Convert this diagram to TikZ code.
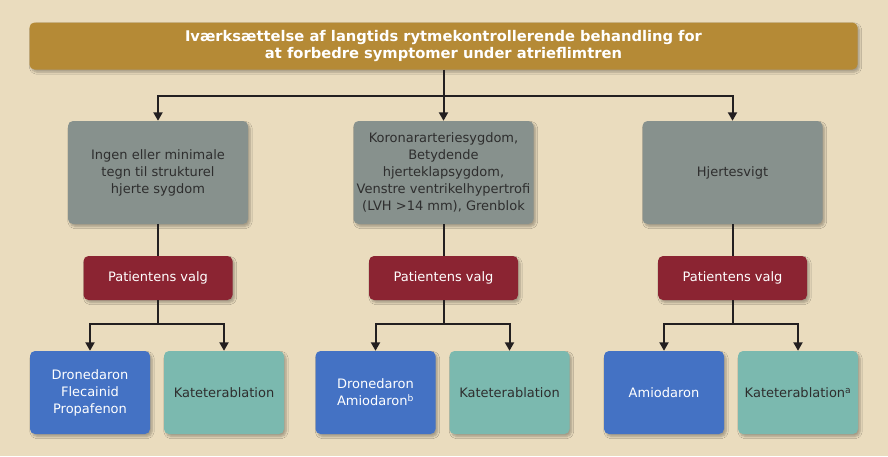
\documentclass[tikz,border=0pt]{standalone}
\usepackage{fontspec}
\setmainfont{DejaVu Sans}
\usetikzlibrary{arrows.meta,shadows.blur}
\definecolor{bg}{HTML}{EADCBE}
\definecolor{titlec}{HTML}{B58A36}
\definecolor{greyc}{HTML}{87918D}
\definecolor{redc}{HTML}{8B2432}
\definecolor{bluec}{HTML}{4472C4}
\definecolor{tealc}{HTML}{7BB9AF}
\definecolor{linec}{HTML}{231F20}
\definecolor{txtc}{HTML}{2E2E2E}
\begin{document}
\begin{tikzpicture}[x=1pt,y=-1pt,
  shad/.style={blur shadow={shadow xshift=2pt,shadow yshift=-2.5pt,shadow blur steps=6,shadow opacity=30}},
  basebox/.style={rounded corners=5pt,inner sep=0pt,align=center,shad,font=\fontsize{13}{17}\selectfont},
  titlebox/.style={basebox,fill=titlec,text=white,minimum width=828pt,minimum height=47pt,font=\fontsize{14.7}{17.5}\selectfont\bfseries},
  greybox/.style={basebox,fill=greyc,text=txtc,minimum width=180pt,minimum height=103pt},
  redbox/.style={basebox,fill=redc,text=white,minimum width=149pt,minimum height=44pt},
  bluebox/.style={basebox,fill=bluec,text=white,minimum width=120pt,minimum height=83pt},
  tealbox/.style={basebox,fill=tealc,text=txtc,minimum width=120pt,minimum height=83pt},
  conn/.style={draw=linec,line width=2pt},
  arr/.style={conn,-{Triangle[width=9pt,length=8.5pt]}}]
\fill[bg] (0,0) rectangle (888,456);
\useasboundingbox (0,0) rectangle (888,456);

\node[titlebox] (title) at (443.5,46) {Iværksættelse af langtids rytmekontrollerende behandling for\\at forbedre symptomer under atrieflimtren};

\node[greybox] (g1) at (158,172.5) {Ingen eller minimale\\tegn til strukturel\\hjerte sygdom};
\node[greybox] (g2) at (443.5,172.5) {Koronararteriesygdom,\\Betydende\\hjerteklapsygdom,\\Venstre ventrikelhypertrofi\\(LVH >14 mm), Grenblok};
\node[greybox] (g3) at (732.5,172.5) {Hjertesvigt};

\node[redbox] (r1) at (158,278) {Patientens valg};
\node[redbox] (r2) at (443.5,278) {Patientens valg};
\node[redbox] (r3) at (732.5,278) {Patientens valg};

\node[bluebox] (b1) at (90,392.5) {Dronedaron\\Flecainid\\Propafenon};
\node[tealbox] (t1) at (224,392.5) {Kateterablation};
\node[bluebox] (b2) at (375.5,392.5) {Dronedaron\\Amiodaron\textsuperscript{b}};
\node[tealbox] (t2) at (509.5,392.5) {Kateterablation};
\node[bluebox] (b3) at (664,392.5) {Amiodaron};
\node[tealbox] (t3) at (798,392.5) {Kateterablation\textsuperscript{a}};

\coordinate (tj) at ([yshift=-26pt]title.south);
\draw[conn] (title.south) -- (tj);
\draw[arr] (tj) -| (g1.north);
\draw[arr] (tj) -- (g2.north);
\draw[arr] (tj) -| (g3.north);

\draw[conn] (g1.south) -- (r1.north);
\draw[conn] (g2.south) -- (r2.north);
\draw[conn] (g3.south) -- (r3.north);

\coordinate (j1) at ([yshift=-24pt]r1.south);
\coordinate (j2) at ([yshift=-24pt]r2.south);
\coordinate (j3) at ([yshift=-24pt]r3.south);
\draw[conn] (r1.south) -- (j1);
\draw[conn] (r2.south) -- (j2);
\draw[conn] (r3.south) -- (j3);
\draw[arr] (j1) -| (b1.north);
\draw[arr] (j1) -| (t1.north);
\draw[arr] (j2) -| (b2.north);
\draw[arr] (j2) -| (t2.north);
\draw[arr] (j3) -| (b3.north);
\draw[arr] (j3) -| (t3.north);
\end{tikzpicture}
\end{document}
